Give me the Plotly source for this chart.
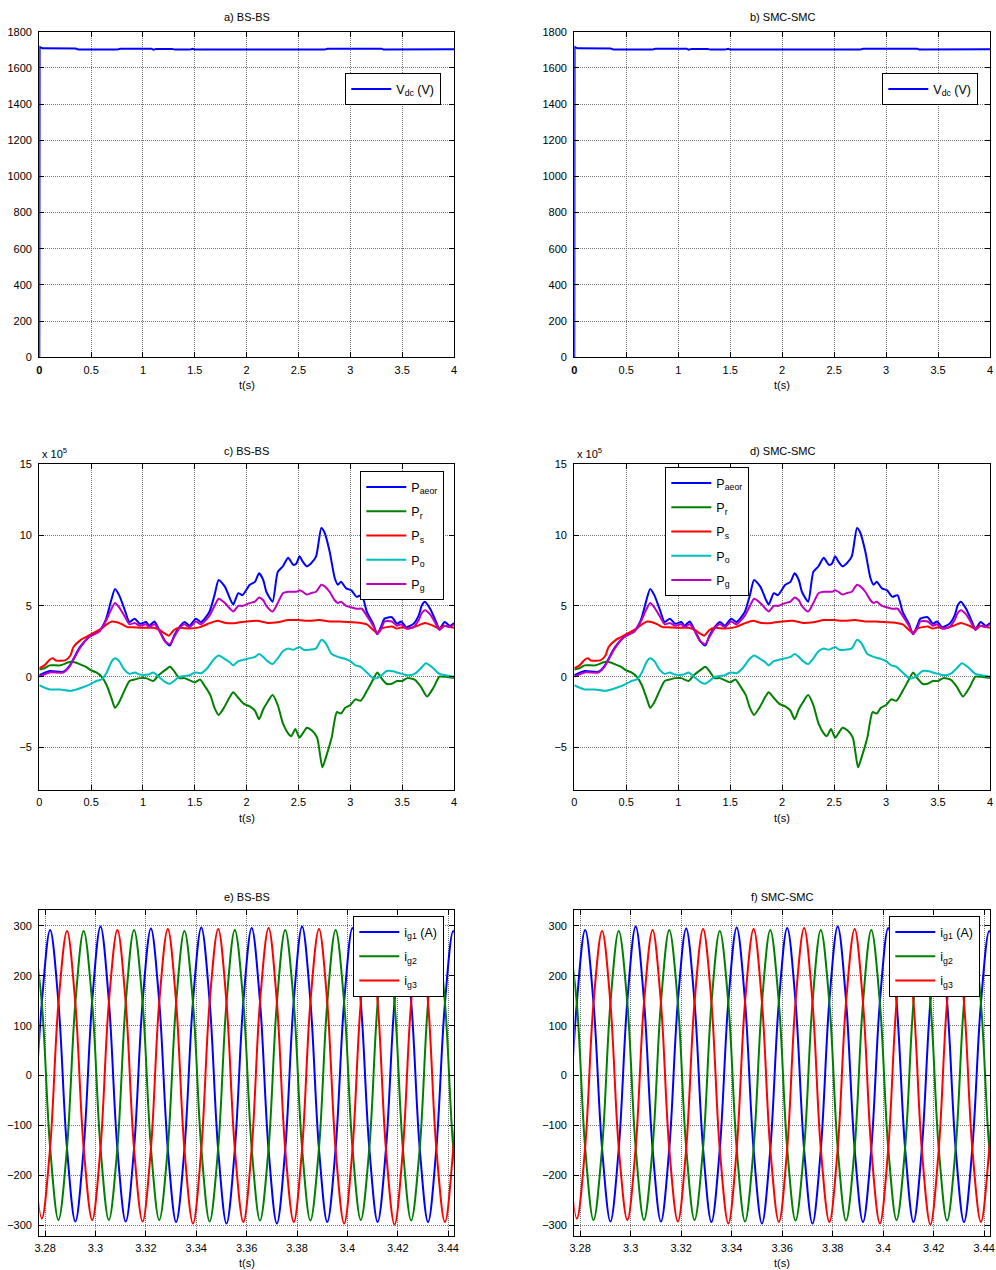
import plotly.graph_objects as go

W, H = 996, 1270

# ---------------- data ----------------
# DC-link voltage (V)
t_vdc = [0, 0.003, 0.03, 0.35, 0.38, 0.75, 0.78, 1.08, 1.1, 1.13, 1.28, 1.31, 1.45, 1.48, 1.5, 1.53,
         1.8, 1.83, 1.9, 1.93, 2.22, 2.25, 2.28, 2.3, 2.45, 2.48, 2.5, 2.55, 2.6, 2.75, 2.78, 3.3, 3.32,
         3.45, 3.47, 3.5, 3.55, 3.6, 3.75, 3.78, 3.95, 3.97, 4.0]
vdc = [0, 1716, 1708, 1707, 1701, 1701, 1706, 1706, 1701, 1705, 1705, 1701, 1701, 1705, 1701, 1701,
       1701, 1705, 1705, 1701, 1701, 1705, 1705, 1701, 1701, 1705, 1701, 1705, 1701, 1701, 1706, 1706, 1701,
       1701, 1705, 1701, 1705, 1701, 1701, 1705, 1705, 1701, 1703]

# Powers (x 1e5 W)
t_pa = [0, 0.1, 0.23, 0.29, 0.39, 0.48, 0.58, 0.64, 0.69, 0.73,
        0.77, 0.82, 0.87, 0.92, 0.97, 1.03, 1.06, 1.11, 1.16, 1.21,
        1.26, 1.30, 1.35, 1.40, 1.45, 1.51, 1.56, 1.64, 1.69, 1.73,
        1.79, 1.84, 1.87, 1.92, 1.96, 2.03, 2.08, 2.12, 2.16, 2.19,
        2.25, 2.30, 2.35, 2.40, 2.45, 2.48, 2.51, 2.54, 2.58, 2.62,
        2.67, 2.72, 2.75, 2.80, 2.85, 2.88, 2.91, 2.96, 3.01, 3.06,
        3.11, 3.16, 3.22, 3.26, 3.30, 3.33, 3.40, 3.45, 3.49, 3.54,
        3.61, 3.66, 3.69, 3.72, 3.77, 3.82, 3.86, 3.91, 3.96, 4.0]
p_aeor = [0.1, 0.4, 0.35, 0.75, 2.07, 2.8, 3.26, 4.0, 5.3, 6.2,
          5.76, 4.8, 3.86, 4.1, 3.74, 3.86, 3.6, 3.9, 3.26, 2.55,
          2.2, 2.9, 3.5, 3.86, 3.6, 4.1, 3.86, 4.57, 5.76, 6.83,
          6.36, 5.5, 5.1, 5.9, 5.76, 6.5, 6.7, 7.3, 6.83, 6.0,
          5.3, 7.4, 7.8, 8.4, 7.9, 8.0, 8.5, 8.14, 7.8, 8.0,
          8.5, 10.5, 10.2, 8.86, 6.95, 6.5, 6.7, 6.24, 6.1, 5.64,
          5.76, 4.57, 3.74, 3.0, 3.6, 4.1, 4.2, 3.74, 3.9, 3.5,
          3.74, 4.33, 5.05, 5.3, 4.8, 4.0, 3.4, 3.86, 3.6, 3.8]
p_g = [0.0, 0.3, 0.3, 0.7, 2.0, 2.8, 3.2, 3.9, 4.7, 5.2,
       4.9, 4.3, 3.7, 3.8, 3.6, 3.7, 3.5, 3.7, 3.2, 2.5,
       2.3, 2.8, 3.4, 3.7, 3.5, 3.9, 3.7, 4.3, 5.0, 5.5,
       5.2, 4.8, 4.6, 5.0, 5.0, 5.2, 5.3, 5.6, 5.4, 5.0,
       4.6, 5.2, 5.9, 6.0, 6.0, 6.0, 6.1, 6.0, 5.8, 5.9,
       6.0, 6.5, 6.4, 6.0, 5.4, 5.2, 5.3, 5.0, 4.9, 4.8,
       4.8, 4.3, 3.6, 3.0, 3.4, 3.9, 3.9, 3.6, 3.7, 3.4,
       3.5, 4.0, 4.5, 4.7, 4.4, 3.8, 3.3, 3.6, 3.5, 3.7]

t_ps = [0, 0.05, 0.1, 0.13, 0.16, 0.25, 0.3, 0.33, 0.4, 0.45,
        0.5, 0.55, 0.6, 0.65, 0.7, 0.75, 0.8, 0.85, 0.9, 1.0,
        1.1, 1.16, 1.2, 1.25, 1.3, 1.35, 1.45, 1.55, 1.65, 1.72,
        1.8, 1.9, 2.0, 2.1, 2.2, 2.3, 2.4, 2.5, 2.6, 2.7,
        2.8, 2.9, 3.0, 3.1, 3.16, 3.22, 3.26, 3.3, 3.4, 3.45,
        3.5, 3.55, 3.65, 3.72, 3.8, 3.86, 3.9, 4.0]
p_s = [0.6, 0.8, 1.2, 1.3, 1.15, 1.15, 1.5, 2.1, 2.6, 2.8,
       3.0, 3.2, 3.4, 3.7, 3.9, 3.85, 3.7, 3.5, 3.5, 3.45,
       3.45, 3.3, 3.1, 2.9, 3.3, 3.45, 3.4, 3.5, 3.8, 3.95,
       3.8, 3.8, 3.9, 3.95, 3.8, 3.85, 4.0, 4.0, 3.95, 4.0,
       3.9, 3.9, 3.85, 3.8, 3.7, 3.3, 3.1, 3.4, 3.55, 3.4,
       3.5, 3.4, 3.6, 3.8, 3.6, 3.4, 3.6, 3.45]

t_pr = [0, 0.05, 0.1, 0.2, 0.3, 0.35, 0.4, 0.45, 0.5, 0.55,
        0.6, 0.65, 0.7, 0.73, 0.77, 0.82, 0.87, 0.92, 0.97, 1.03,
        1.1, 1.15, 1.22, 1.26, 1.3, 1.35, 1.4, 1.5, 1.55, 1.6,
        1.65, 1.69, 1.73, 1.78, 1.84, 1.87, 1.92, 1.97, 2.03, 2.08,
        2.12, 2.16, 2.2, 2.25, 2.3, 2.35, 2.4, 2.43, 2.47, 2.51,
        2.55, 2.58, 2.63, 2.68, 2.73, 2.76, 2.82, 2.87, 2.91, 2.95,
        3.0, 3.05, 3.1, 3.16, 3.22, 3.26, 3.3, 3.35, 3.4, 3.45,
        3.5, 3.55, 3.62, 3.68, 3.74, 3.8, 3.86, 3.92, 4.0]
p_r = [0.5, 0.6, 0.8, 0.8, 1.05, 1.0, 0.85, 0.7, 0.45, 0.3,
       0.0, -0.6, -1.6, -2.2, -1.8, -1.0, -0.3, -0.2, -0.1, -0.1,
       -0.3, 0.1, 0.5, 0.7, 0.4, -0.1, -0.1, -0.4, -0.2, -0.7,
       -1.3, -2.2, -2.7, -2.2, -1.4, -1.1, -1.5, -1.9, -2.1, -2.4,
       -3.0, -2.3, -1.8, -1.3, -2.0, -3.3, -4.0, -4.2, -3.7, -4.3,
       -3.9, -3.6, -3.8, -4.3, -6.4, -5.8, -4.3, -2.5, -2.6, -2.2,
       -2.0, -1.6, -1.7, -1.0, -0.2, 0.3, -0.1, -0.5, -0.5, -0.3,
       -0.3, -0.1, -0.2, -0.7, -1.4, -0.8, 0.0, 0.0, -0.1]

t_po = [0, 0.1, 0.2, 0.3, 0.4, 0.5, 0.55, 0.6, 0.65, 0.7,
        0.73, 0.77, 0.82, 0.87, 0.92, 0.97, 1.05, 1.1, 1.15, 1.22,
        1.26, 1.3, 1.35, 1.45, 1.5, 1.56, 1.62, 1.68, 1.73, 1.78,
        1.84, 1.87, 1.92, 1.97, 2.03, 2.08, 2.12, 2.16, 2.2, 2.25,
        2.3, 2.35, 2.4, 2.45, 2.51, 2.55, 2.6, 2.67, 2.72, 2.76,
        2.82, 2.88, 2.93, 3.0, 3.05, 3.1, 3.16, 3.22, 3.26, 3.3,
        3.35, 3.4, 3.45, 3.5, 3.55, 3.62, 3.68, 3.73, 3.8, 3.86,
        3.92, 4.0]
p_o = [-0.6, -0.9, -0.9, -1.0, -0.8, -0.5, -0.3, -0.2, 0.3, 1.1,
       1.3, 1.1, 0.5, 0.2, 0.3, 0.15, 0.15, 0.3, 0.0, -0.4,
       -0.5, -0.3, 0.0, 0.1, 0.3, 0.25, 0.6, 1.2, 1.5, 1.3,
       1.0, 0.8, 1.1, 1.2, 1.3, 1.4, 1.6, 1.4, 1.1, 0.9,
       1.3, 1.8, 2.0, 1.9, 2.1, 1.9, 1.9, 2.0, 2.6, 2.4,
       1.6, 1.4, 1.3, 1.1, 0.8, 0.7, 0.3, -0.1, -0.1, 0.1,
       0.4, 0.4, 0.3, 0.2, 0.1, 0.2, 0.6, 0.95, 0.6, 0.2,
       0.1, 0.0]

# Grid currents (A), samples read every 1/6 period
t_ig = [3.2753, 3.2787, 3.2820, 3.2853, 3.2887, 3.2920, 3.2953, 3.2987, 3.3020, 3.3053,
        3.3087, 3.3120, 3.3153, 3.3187, 3.3220, 3.3253, 3.3287, 3.3320, 3.3353, 3.3387,
        3.3420, 3.3453, 3.3487, 3.3520, 3.3553, 3.3587, 3.3620, 3.3653, 3.3687, 3.3720,
        3.3753, 3.3787, 3.3820, 3.3853, 3.3887, 3.3920, 3.3953, 3.3987, 3.4020, 3.4053,
        3.4087, 3.4120, 3.4153, 3.4187, 3.4220, 3.4253, 3.4287, 3.4320, 3.4353, 3.4387,
        3.4420, 3.4453]
i_g1 = [-146, 146, 292, 146, -147, -293, -147, 150, 299, 150,
        -147, -293, -147, 148, 295, 148, -147, -294, -148, 149,
        297, 149, -149, -297, -149, 148, 296, 148, -149, -297,
        -149, 150, 299, 150, -147, -294, -147, 148, 296, 148,
        -147, -294, -147, 148, 295, 148, -147, -294, -146, 145,
        290, 145]
i_g2 = [290, 145, -145, -290, -145, 145, 290, 145, -145, -290,
        -145, 146, 292, 146, -145, -290, -145, 145, 290, 145,
        -146, -293, -146, 146, 292, 146, -146, -291, -146, 146,
        292, 146, -146, -291, -146, 146, 292, 146, -145, -290,
        -145, 146, 292, 146, -146, -291, -146, 146, 292, 146,
        -145, -290]
i_g3 = [-144, -287, -144, 145, 290, 145, -145, -290, -145, 146,
        292, 146, -147, -293, -147, 147, 294, 147, -148, -297,
        -148, 147, 294, 147, -147, -294, -147, 148, 296, 148,
        -147, -294, -147, 147, 294, 147, -148, -297, -148, 147,
        295, 147, -149, -299, -149, 147, 295, 147, -147, -294,
        -147, 146]

vdc_ticks = [0, 0.5, 1, 1.5, 2, 2.5, 3, 3.5, 4]
vdc_ticktext = ["<b>0</b>", "0.5", "1", "1.5", "2", "2.5", "3", "3.5", "4"]
p_ticktext = ["0", "0.5", "1", "1.5", "2", "2.5", "3", "3.5", "4"]
ig_ticks = [3.28, 3.30, 3.32, 3.34, 3.36, 3.38, 3.40, 3.42, 3.44]
ig_ticktext = ["3.28", "3.3", "3.32", "3.34", "3.36", "3.38", "3.4", "3.42", "3.44"]

titles = ["a) BS-BS", "b) SMC-SMC", "c) BS-BS", "d) SMC-SMC", "e) BS-BS", "f) SMC-SMC"]

BLUE, GREEN, RED, CYAN, MAG = "#0000ff", "#008000", "#ff0000", "#00bfbf", "#bf00bf"
FONT = "Liberation Sans, Arial, Helvetica, sans-serif"

# ---------------- layout geometry (pixels) ----------------
colx = [(39.3, 454.0), (574.3, 990.0)]
rowy = [(31.7, 357.3), (464.3, 790.0), (910.0, 1236.0)]


def xd(a, b):
    return [a / W, b / W]


def yd(a, b):
    return [1 - b / H, 1 - a / H]


fig = go.Figure()
LW = 2.0

for c in range(2):
    leg_top = "legend" if c == 0 else "legend2"
    # Vdc
    fig.add_trace(go.Scatter(x=t_vdc, y=vdc, mode="lines", name="V<sub>dc</sub> (V)",
                             line=dict(color=BLUE, width=LW), xaxis=f"x{1 + c if c else ''}",
                             yaxis=f"y{1 + c if c else ''}", legend=leg_top))
    # Powers
    ax = 3 + c
    leg = f"legend{ax}"
    for gi, (tt, vv, nm, col) in enumerate([(t_pa, p_aeor, "P<sub>aeor</sub>", BLUE),
                                            (t_pr, p_r, "P<sub>r</sub>", GREEN),
                                            (t_ps, p_s, "P<sub>s</sub>", RED),
                                            (t_po, p_o, "P<sub>o</sub>", CYAN),
                                            (t_pa, p_g, "P<sub>g</sub>", MAG)]):
        fig.add_trace(go.Scatter(x=tt, y=vv, mode="lines", name=nm, legendgroup=f"p{c}{gi}",
                                 line=dict(color=col, width=LW, shape="spline", smoothing=0.6),
                                 xaxis=f"x{ax}", yaxis=f"y{ax}", legend=leg))
    # currents
    ax = 5 + c
    leg = f"legend{ax}"
    for gi, (vv, nm, col) in enumerate([(i_g1, "i<sub>g1</sub> (A)", BLUE),
                                        (i_g2, "i<sub>g2</sub>", GREEN),
                                        (i_g3, "i<sub>g3</sub>", RED)]):
        fig.add_trace(go.Scatter(x=t_ig, y=vv, mode="lines", name=nm, legendgroup=f"i{c}{gi}",
                                 line=dict(color=col, width=LW, shape="spline", smoothing=1.0),
                                 xaxis=f"x{ax}", yaxis=f"y{ax}", legend=leg))

common = dict(showline=True, linecolor="black", linewidth=1.3, mirror="ticks", ticks="inside",
              ticklen=5, tickcolor="black", tickwidth=1, showgrid=True, gridcolor="#777777",
              griddash="1px,1px", gridwidth=1, zeroline=False, automargin=False,
              tickfont=dict(family=FONT, size=11, color="black"))

layout = dict(width=W, height=H, margin=dict(l=0, r=0, t=0, b=0),
              paper_bgcolor="white", plot_bgcolor="white",
              font=dict(family=FONT, size=11, color="black"), showlegend=True)

for r in range(3):
    for c in range(2):
        idx = r * 2 + c + 1
        sfx = "" if idx == 1 else str(idx)
        xa = dict(common, domain=xd(*colx[c]), anchor=f"y{sfx}", ticklabelstandoff=2)
        ya = dict(common, domain=yd(*rowy[r]), anchor=f"x{sfx}", ticklabelstandoff=4)
        if r == 0:
            xa.update(range=[0, 4], tickvals=vdc_ticks, ticktext=vdc_ticktext)
            ya.update(range=[0, 1800], tickvals=list(range(0, 1801, 200)))
        elif r == 1:
            xa.update(range=[0, 4], tickvals=vdc_ticks, ticktext=p_ticktext)
            ya.update(range=[-8, 15], tickvals=[-5, 0, 5, 10, 15])
        else:
            xa.update(range=[3.2777, 3.4423], tickvals=ig_ticks, ticktext=ig_ticktext)
            ya.update(range=[-322, 332], tickvals=[-300, -200, -100, 0, 100, 200, 300])
        layout[f"xaxis{sfx}"] = xa
        layout[f"yaxis{sfx}"] = ya

# legends (pixel boxes: left, top)
leg_pos = {"legend": (345, 73), "legend2": (882, 73), "legend3": (360, 471),
           "legend4": (665, 467), "legend5": (353, 916), "legend6": (889, 916)}
for k, (lx, ly) in leg_pos.items():
    layout[k] = dict(x=lx / W, y=1 - ly / H, xanchor="left", yanchor="top",
                     bgcolor="white", bordercolor="black", borderwidth=1.3,
                     font=dict(family=FONT, size=12.5, color="black"),
                     itemwidth=40, tracegroupgap=5)

annotations = []
title_y = [17, 451, 896.7]
xlab_y = [385, 817.7, 1263]
for r in range(3):
    for c in range(2):
        cx = (colx[c][0] + colx[c][1]) / 2
        annotations.append(dict(text=titles[r * 2 + c], x=cx / W, y=1 - title_y[r] / H,
                                xref="paper", yref="paper", showarrow=False,
                                xanchor="center", yanchor="middle",
                                font=dict(family=FONT, size=11, color="black")))
        annotations.append(dict(text="t(s)", x=cx / W, y=1 - xlab_y[r] / H,
                                xref="paper", yref="paper", showarrow=False,
                                xanchor="center", yanchor="middle",
                                font=dict(family=FONT, size=11, color="black")))
for c in range(2):
    annotations.append(dict(text="x 10<sup>5</sup>", x=(colx[c][0] + 0.5) / W, y=1 - 453 / H,
                            xref="paper", yref="paper", showarrow=False,
                            xanchor="left", yanchor="middle",
                            font=dict(family=FONT, size=11, color="black")))
layout["annotations"] = annotations

fig.update_layout(**layout)
fig.write_html("out.html", config={"displayModeBar": False},
               post_script="document.body.style.margin='0';document.body.style.overflow='hidden';")
